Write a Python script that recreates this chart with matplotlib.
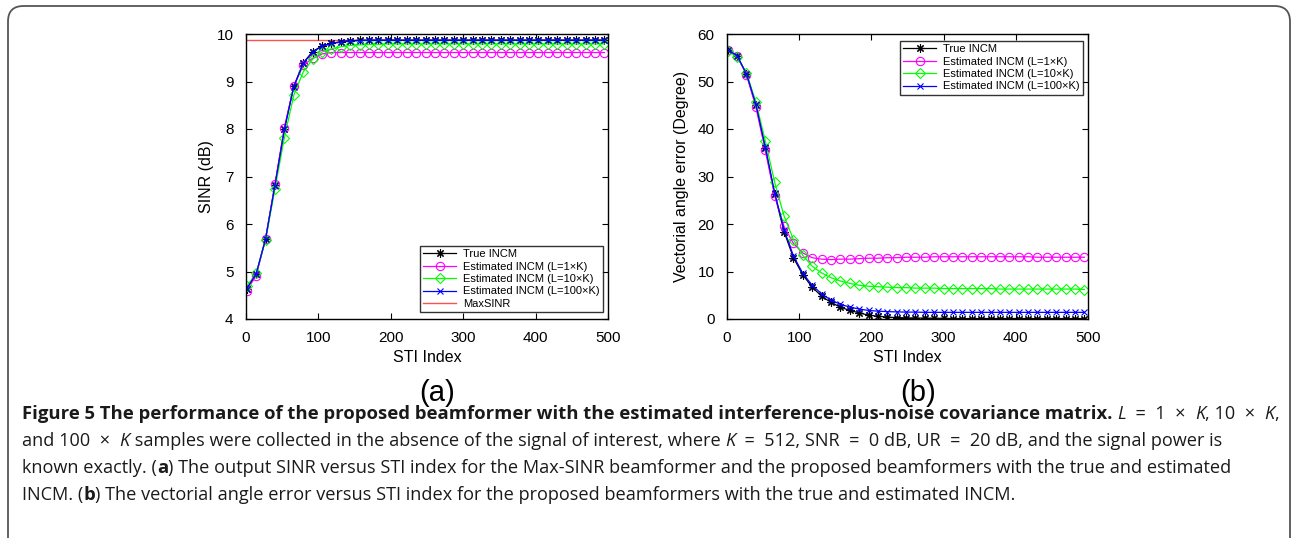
import matplotlib
matplotlib.use("Agg")
import matplotlib.pyplot as plt
from matplotlib.patches import FancyBboxPatch

# ---------------- data ----------------
sti = [1, 14, 27, 40, 53, 66, 79, 92, 105, 118, 131, 144, 157, 170, 183, 196,
       209, 222, 235, 248, 261, 274, 287, 300, 313, 326, 339, 352, 365, 378,
       391, 404, 417, 430, 443, 456, 469, 482, 495]

sinr_true = [4.63, 4.94, 5.69, 6.82, 8.00, 8.90, 9.39, 9.63, 9.75, 9.80, 9.84, 9.86, 9.87,
             9.87, 9.87, 9.87, 9.87, 9.87, 9.87, 9.87, 9.87, 9.87, 9.87, 9.87, 9.87, 9.87,
             9.87, 9.87, 9.87, 9.87, 9.87, 9.87, 9.87, 9.87, 9.87, 9.87, 9.87, 9.87, 9.87]
sinr_l1 = [4.60, 4.91, 5.69, 6.84, 8.03, 8.90, 9.34, 9.49, 9.58, 9.61, 9.61, 9.61, 9.61,
           9.61, 9.61, 9.61, 9.61, 9.61, 9.61, 9.61, 9.61, 9.61, 9.61, 9.61, 9.61, 9.61,
           9.61, 9.61, 9.61, 9.61, 9.61, 9.61, 9.61, 9.61, 9.61, 9.61, 9.61, 9.61, 9.61]
sinr_l10 = [4.69, 4.96, 5.66, 6.74, 7.82, 8.71, 9.20, 9.47, 9.62, 9.69, 9.73, 9.76, 9.77,
            9.78, 9.78, 9.79, 9.79, 9.79, 9.79, 9.79, 9.79, 9.79, 9.79, 9.79, 9.79, 9.79,
            9.79, 9.79, 9.79, 9.79, 9.79, 9.79, 9.79, 9.79, 9.79, 9.79, 9.79, 9.79, 9.79]
sinr_l100 = [4.64, 4.95, 5.68, 6.81, 7.99, 8.89, 9.38, 9.62, 9.74, 9.80, 9.83, 9.85, 9.86,
             9.87, 9.87, 9.87, 9.87, 9.87, 9.87, 9.87, 9.87, 9.87, 9.87, 9.87, 9.87, 9.87,
             9.87, 9.87, 9.87, 9.87, 9.87, 9.87, 9.87, 9.87, 9.87, 9.87, 9.87, 9.87, 9.87]
max_sinr_x = [0, 500]
max_sinr = [9.87, 9.87]

ang_true = [56.7, 55.4, 51.6, 45.1, 36.0, 26.3, 18.4, 12.9, 9.3, 6.7, 4.8, 3.5, 2.5,
            1.8, 1.3, 0.8, 0.6, 0.4, 0.3, 0.25, 0.2, 0.2, 0.15, 0.15, 0.1, 0.1,
            0.1, 0.1, 0.1, 0.1, 0.1, 0.1, 0.1, 0.1, 0.1, 0.1, 0.1, 0.1, 0.1]
ang_l1 = [56.7, 55.3, 51.4, 44.6, 35.5, 26.0, 19.5, 15.9, 13.9, 12.9, 12.6, 12.5, 12.6,
          12.6, 12.7, 12.8, 12.8, 12.9, 12.9, 13.0, 13.0, 13.0, 13.1, 13.1, 13.1, 13.1,
          13.1, 13.1, 13.1, 13.1, 13.1, 13.1, 13.1, 13.0, 13.0, 13.0, 13.0, 13.0, 13.0]
ang_l10 = [56.5, 55.1, 51.8, 45.7, 37.5, 28.8, 21.7, 16.7, 13.4, 11.1, 9.7, 8.7, 8.0,
           7.5, 7.1, 6.9, 6.8, 6.7, 6.6, 6.6, 6.5, 6.5, 6.5, 6.4, 6.4, 6.4,
           6.4, 6.4, 6.4, 6.3, 6.3, 6.3, 6.3, 6.3, 6.3, 6.3, 6.3, 6.3, 6.2]
ang_l100 = [56.7, 55.4, 51.6, 45.2, 36.2, 26.6, 18.8, 13.3, 9.6, 7.1, 5.3, 4.0, 3.1,
            2.5, 2.1, 1.8, 1.65, 1.55, 1.5, 1.45, 1.45, 1.4, 1.4, 1.4, 1.4, 1.4,
            1.4, 1.4, 1.4, 1.4, 1.4, 1.4, 1.4, 1.4, 1.4, 1.4, 1.4, 1.4, 1.4]

labels = ["True INCM", "Estimated INCM (L=1\u00d7K)", "Estimated INCM (L=10\u00d7K)",
          "Estimated INCM (L=100\u00d7K)", "MaxSINR"]
xticks = [0, 100, 200, 300, 400, 500]
sinr_ticks = [4, 5, 6, 7, 8, 9, 10]
ang_ticks = [0, 10, 20, 30, 40, 50, 60]

# ---------------- styles ----------------
plt.rcParams['font.family'] = ['Liberation Sans', 'DejaVu Sans']
W, H = 1292, 538
fig = plt.figure(figsize=(W / 100, H / 100), dpi=100)

styles = [dict(color='black', marker=(8, 2, 0), ms=6),
          dict(color='#ff00ff', marker='o', ms=6, mfc='none'),
          dict(color='#00ff00', marker='D', ms=5, mfc='none'),
          dict(color='#0000ff', marker='x', ms=4)]


def px_axes(l, r, t, b):
    return [l / W, 1 - b / H, (r - l) / W, (b - t) / H]


def style_axes(ax, yticks, ylim):
    ax.set_xlim(0, 500)
    ax.set_ylim(*ylim)
    ax.set_xticks(xticks)
    ax.set_yticks(yticks)
    ax.tick_params(direction='in', top=True, right=True, length=4, width=0.8,
                   labelsize=11, pad=9)
    for s in ax.spines.values():
        s.set_linewidth(1.0)
    ax.set_xlabel("STI Index", fontsize=11.5, labelpad=3)


# ---- (a) ----
ax1 = fig.add_axes(px_axes(246, 608, 34, 319))
ax1.plot(max_sinr_x, max_sinr, color='#ff5050', lw=1.0, zorder=1, label=labels[4])
for ys, st, lab in zip([sinr_true, sinr_l1, sinr_l10, sinr_l100], styles, labels):
    ax1.plot(sti, ys, lw=0.9, mew=0.8, label=lab, zorder=2, **st)
style_axes(ax1, sinr_ticks, (4, 10))
ax1.set_ylabel("SINR (dB)", fontsize=11.5, labelpad=2)
h, l = ax1.get_legend_handles_labels()
order = [1, 2, 3, 4, 0]
leg1 = ax1.legend([h[i] for i in order], [l[i] for i in order], loc='lower right',
                  bbox_to_anchor=(0.995, 0.012), fontsize=8, handlelength=3.0,
                  frameon=True, fancybox=False, edgecolor='black', borderpad=0.3,
                  labelspacing=0.22, handletextpad=0.6, borderaxespad=0.3)
leg1.get_frame().set_linewidth(1.0)

# ---- (b) ----
ax2 = fig.add_axes(px_axes(727, 1088, 34, 319))
for ys, st, lab in zip([ang_true, ang_l1, ang_l10, ang_l100], styles, labels):
    ax2.plot(sti, ys, lw=0.9, mew=0.8, label=lab, **st)
style_axes(ax2, ang_ticks, (0, 60))
ax2.set_ylabel("Vectorial angle error (Degree)", fontsize=11.5, labelpad=6)
leg2 = ax2.legend(loc='upper right', bbox_to_anchor=(0.995, 0.988), fontsize=8,
                  handlelength=3.0, frameon=True, fancybox=False, edgecolor='black',
                  borderpad=0.3, labelspacing=0.22, handletextpad=0.6, borderaxespad=0.3)
leg2.get_frame().set_linewidth(1.0)

# panel letters
fig.text(437 / W, 1 - 393 / H, "(a)", fontsize=21, ha='center', va='center')
fig.text(918 / W, 1 - 393 / H, "(b)", fontsize=21, ha='center', va='center')

# border box
box = FancyBboxPatch((8 / W, 1 - 560 / H), (1290 - 8) / W, (560 - 6) / H,
                     boxstyle="round,pad=0,rounding_size=0.012", transform=fig.transFigure,
                     facecolor='none', edgecolor='#555555', lw=1.3, clip_on=False,
                     mutation_aspect=W / H)
fig.patches.append(box)

# ---------------- caption ----------------
cap_family = ['Open Sans', 'DejaVu Sans']
size_regular = 13.1
size_bold = 13.3
renderer = fig.canvas.get_renderer()


def seg_width(txt, weight, style, size):
    t1 = fig.text(0, 0, "|" + txt + "|", fontsize=size, family=cap_family,
                  weight=weight, style=style)
    t2 = fig.text(0, 0, "||", fontsize=size, family=cap_family,
                  weight=weight, style=style)
    w = t1.get_window_extent(renderer).width - t2.get_window_extent(renderer).width
    t1.remove()
    t2.remove()
    return w


def draw_line(segs, x0, y):
    x = x0
    for txt, kind in segs:
        weight = 'bold' if kind == 'b' else 'normal'
        style = 'italic' if kind == 'i' else 'normal'
        size = size_bold if kind == 'b' else size_regular
        fig.text(x / W, 1 - y / H, txt, fontsize=size, family=cap_family,
                 weight=weight, style=style, va='baseline', ha='left', color='#1a1a1a')
        x += seg_width(txt, weight, style, size)


caption = [
    [("Figure 5 The performance of the proposed beamformer with the estimated "
      "interference-plus-noise covariance matrix.", 'b'), (" ", 'n'), ("L", 'i'),
     ("  =  1  \u00d7  ", 'n'), ("K", 'i'), (", 10  \u00d7  ", 'n'), ("K", 'i'), (",", 'n')],
    [("and 100  \u00d7  ", 'n'), ("K", 'i'),
     (" samples were collected in the absence of the signal of interest, where ", 'n'),
     ("K", 'i'), ("  =  512, SNR  =  0 dB, UR  =  20 dB, and the signal power is", 'n')],
    [("known exactly. (", 'n'), ("a", 'b'),
     (") The output SINR versus STI index for the Max-SINR beamformer and the proposed "
      "beamformers with the true and estimated", 'n')],
    [("INCM. (", 'n'), ("b", 'b'),
     (") The vectorial angle error versus STI index for the proposed beamformers with "
      "the true and estimated INCM.", 'n')],
]
baselines = [419, 446, 473, 500]
for segs, yb in zip(caption, baselines):
    draw_line(segs, 22, yb)

fig.savefig("out.png", dpi=100)
